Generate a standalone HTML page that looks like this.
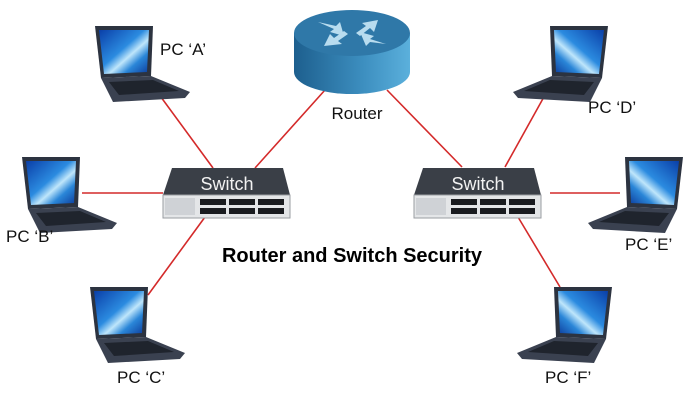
<!DOCTYPE html>
<html><head><meta charset="utf-8"><style>
html,body{margin:0;padding:0;background:#fff;}
svg{display:block;}
.lbl{font-family:"Liberation Sans",Arial,sans-serif;font-size:17px;fill:#111;}
</style></head><body>
<svg width="700" height="400" viewBox="0 0 700 400" xmlns="http://www.w3.org/2000/svg">
<defs>
<linearGradient id="scr" x1="0" y1="0" x2="1" y2="1">
<stop offset="0" stop-color="#0a3fa8"/><stop offset="0.45" stop-color="#2b8be0"/><stop offset="0.6" stop-color="#bfe6fb"/><stop offset="0.75" stop-color="#2a86d8"/><stop offset="1" stop-color="#0b3a9a"/>
</linearGradient>
<linearGradient id="rside" x1="0" y1="0" x2="1" y2="0">
<stop offset="0" stop-color="#1d5f8e"/><stop offset="0.6" stop-color="#3d8fc0"/><stop offset="1" stop-color="#5bb0dc"/>
</linearGradient>
<g id="lap">
<path d="M0,0 L58,0 L56,50 L6,52 Z" fill="#2c3340"/>
<path d="M4,4 L54,4 L52,46 L9,48 Z" fill="url(#scr)"/>
<path d="M6,52 L56,50 L95,66 L90,72 L18,76 Z" fill="#3a4150"/>
<path d="M14,56 L58,54 L84,65 L24,69 Z" fill="#1f242d"/>
</g>
</defs>
<g stroke="#d42a2a" stroke-width="1.6" fill="none">
<line x1="158" y1="93" x2="213" y2="168"/>
<line x1="325" y1="90" x2="255" y2="168"/>
<line x1="82" y1="193" x2="163" y2="193"/>
<line x1="148" y1="295" x2="205" y2="217"/>
<line x1="545" y1="95" x2="505" y2="167"/>
<line x1="387" y1="90" x2="462" y2="167"/>
<line x1="550" y1="193" x2="620" y2="193"/>
<line x1="518" y1="217" x2="560" y2="287"/>
</g>
<!-- laptops -->
<use href="#lap" x="95" y="26"/>
<use href="#lap" x="22" y="157"/>
<use href="#lap" x="90" y="287"/>
<use href="#lap" transform="translate(608,26) scale(-1,1)"/>
<use href="#lap" transform="translate(683,157) scale(-1,1)"/>
<use href="#lap" transform="translate(612,287) scale(-1,1)"/>
<!-- router -->
<path d="M294,33 L294,72 A58,22 0 0 0 410,72 L410,33 Z" fill="url(#rside)"/>
<ellipse cx="352" cy="33" rx="58" ry="23" fill="#2f78a8"/>
<g fill="#b8dcef">
<path d="M318,22 L336,26 L340,22 L344,36 L330,32 L334,29 Z"/>
<path d="M378,20 L374,32 L370,28 L360,36 L356,33 L366,26 L362,23 Z"/>
<path d="M324,46 L330,34 L334,38 L344,31 L348,34 L338,41 L342,44 Z"/>
<path d="M386,44 L370,42 L366,46 L360,32 L374,36 L370,39 Z"/>
</g>
<!-- switches -->
<g id="sw">
<path d="M172,168 L283,168 L290,195 L163,195 Z" fill="#3a3f47"/>
<rect x="163" y="195" width="127" height="23" fill="#e4e6e8" stroke="#9a9da2"/>
<rect x="165" y="198" width="30" height="17" fill="#cfd2d6"/>
<g fill="#1a1c20">
<rect x="200" y="199" width="26" height="6"/><rect x="200" y="208" width="26" height="6"/>
<rect x="229" y="199" width="26" height="6"/><rect x="229" y="208" width="26" height="6"/>
<rect x="258" y="199" width="26" height="6"/><rect x="258" y="208" width="26" height="6"/>
</g>
<text x="227" y="190" text-anchor="middle" font-family="Liberation Sans,Arial,sans-serif" font-size="18" fill="#f2f2f2">Switch</text>
</g>
<use href="#sw" x="251" y="0"/>
<!-- labels -->
<text class="lbl" x="160" y="55">PC ‘A’</text>
<text class="lbl" x="6" y="242">PC ‘B’</text>
<text class="lbl" x="117" y="383">PC ‘C’</text>
<text class="lbl" x="588" y="113">PC ‘D’</text>
<text class="lbl" x="625" y="250">PC ‘E’</text>
<text class="lbl" x="545" y="383">PC ‘F’</text>
<text class="lbl" x="357" y="119" text-anchor="middle">Router</text>
<text x="352" y="262" text-anchor="middle" font-family="Liberation Sans,Arial,sans-serif" font-weight="bold" font-size="20" fill="#000">Router and Switch Security</text>
</svg>
</body></html>
